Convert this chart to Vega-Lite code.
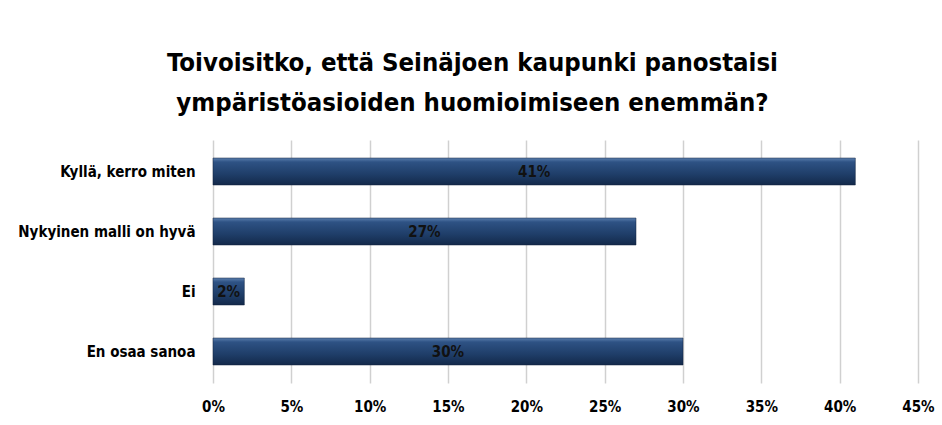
{
  "$schema": "https://vega.github.io/schema/vega-lite/v6.json",
  "autosize": "none",
  "width": 705,
  "height": 243,
  "padding": {"left": 213, "top": 140, "right": 24, "bottom": 42},
  "background": "white",
  "title": {
    "text": ["Toivoisitko, että Seinäjoen kaupunki panostaisi", "ympäristöasioiden huomioimiseen enemmän?"],
    "font": "DejaVu Sans Condensed",
    "fontSize": 25.5,
    "fontWeight": "bold",
    "color": "#000000",
    "anchor": "middle",
    "dx": -93,
    "lineHeight": 40,
    "offset": 24
  },
  "data": {
    "values": [
      {"category": "Kyllä, kerro miten", "value": 41, "label": "41%"},
      {"category": "Nykyinen malli on hyvä", "value": 27, "label": "27%"},
      {"category": "Ei", "value": 2, "label": "2%"},
      {"category": "En osaa sanoa", "value": 30, "label": "30%"}
    ]
  },
  "transform": [{"calculate": "datum.value / 2", "as": "mid"}],
  "config": {
    "view": {"stroke": null},
    "font": "DejaVu Sans Condensed"
  },
  "encoding": {
    "y": {
      "field": "category",
      "type": "nominal",
      "sort": null,
      "scale": {"paddingInner": 0.55, "paddingOuter": 0.3},
      "axis": {
        "title": null,
        "domain": false,
        "ticks": false,
        "labelFontSize": 15,
        "labelFontWeight": "bold",
        "labelColor": "#000000",
        "labelPadding": 18,
        "labelFont": "DejaVu Sans Condensed"
      }
    }
  },
  "layer": [
    {
      "mark": {
        "type": "bar",
        "color": {
          "gradient": "linear",
          "x1": 0, "y1": 0, "x2": 0, "y2": 1,
          "stops": [
            {"offset": 0, "color": "#5b7fae"},
            {"offset": 0.15, "color": "#2e5284"},
            {"offset": 0.6, "color": "#1f3e69"},
            {"offset": 1, "color": "#13294a"}
          ]
        },
        "stroke": "#10233f",
        "strokeWidth": 0.5
      },
      "encoding": {
        "x": {
          "field": "value",
          "type": "quantitative",
          "scale": {"domain": [0, 45]},
          "axis": {
            "title": null,
            "values": [0, 5, 10, 15, 20, 25, 30, 35, 40, 45],
            "labelExpr": "datum.value + '%'",
            "labelFlush": false,
            "grid": true,
            "gridColor": "#d0d0d0",
            "gridWidth": 1.5,
            "domain": false,
            "ticks": false,
            "labelFontSize": 15,
            "labelFontWeight": "bold",
            "labelColor": "#000000",
            "labelPadding": 16,
            "labelFont": "DejaVu Sans Condensed"
          }
        }
      }
    },
    {
      "mark": {
        "type": "text",
        "fontSize": 15,
        "fontWeight": "bold",
        "color": "#111111",
        "align": "center",
        "baseline": "middle",
        "font": "DejaVu Sans Condensed"
      },
      "encoding": {
        "x": {"field": "mid", "type": "quantitative"},
        "text": {"field": "label"}
      }
    }
  ]
}
